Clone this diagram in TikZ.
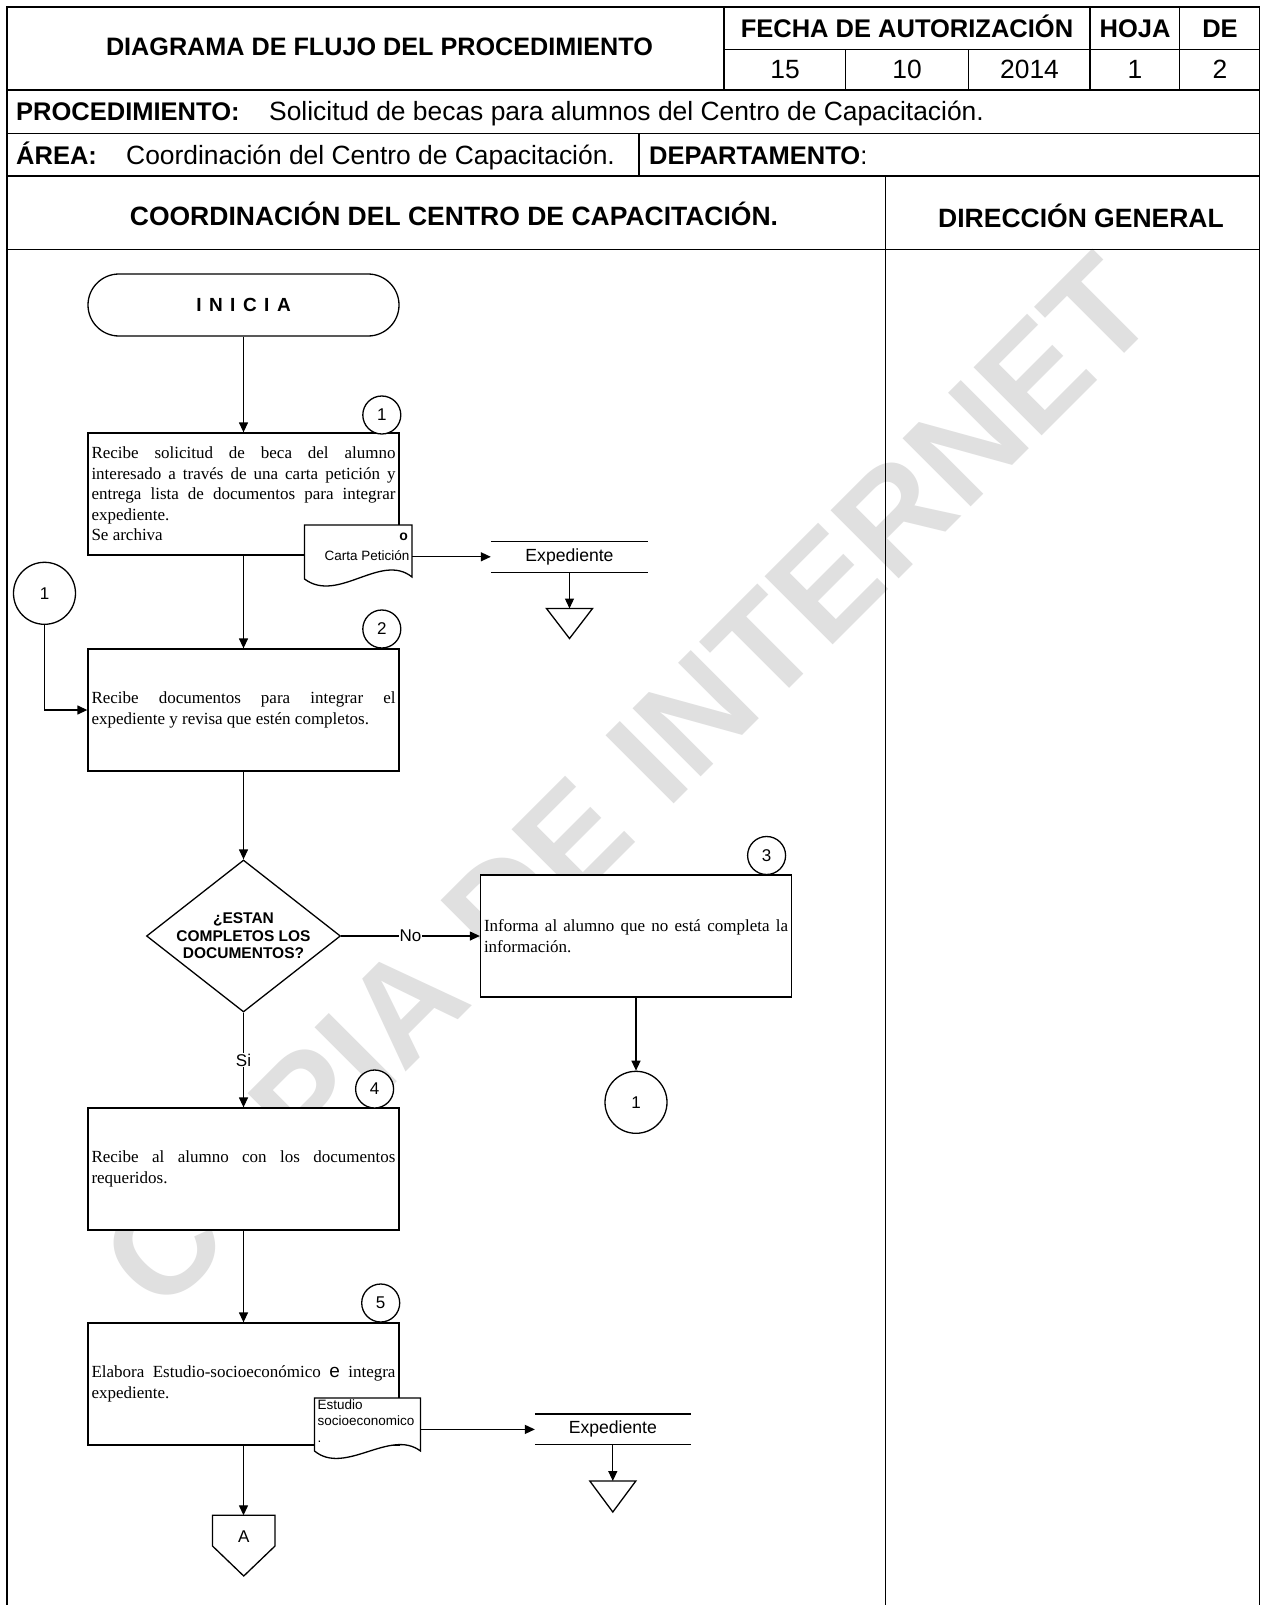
\documentclass[tikz,border=0pt]{standalone}
\usepackage{fontspec}
\setmainfont{Liberation Serif}
\newfontfamily\arialf{Liberation Sans}
\usetikzlibrary{arrows.meta,shapes.geometric}
\begin{document}
\begin{tikzpicture}[x=1pt,y=-1pt,
  tbl/.style={line width=1.7pt},
  flow/.style={line width=1.3pt, -{Triangle[length=10pt,width=9pt]}},
  plain/.style={line width=1.3pt},
  hdr/.style={font=\arialf\bfseries\fontsize{25.5}{30}\selectfont, inner sep=0pt, text height=18.3pt, text depth=0pt},
  hdrn/.style={font=\arialf\fontsize{26.4}{30}\selectfont, inner sep=0pt, text height=18.9pt, text depth=0pt},
  lanehdr/.style={font=\arialf\bfseries\fontsize{26.5}{30}\selectfont, inner sep=0pt, text height=19pt, text depth=0pt},
  proc/.style={draw, line width=1.3pt, fill=white, minimum width=311pt, minimum height=122pt, text width=304pt, align=justify, inner sep=0pt, font=\fontsize{17}{20.5}\selectfont},
  stepc/.style={circle, draw, line width=1.3pt, fill=white, minimum size=38pt, inner sep=0pt, font=\arialf\fontsize{17}{20}\selectfont},
  conn/.style={circle, draw, line width=1.3pt, fill=white, minimum size=62pt, inner sep=0pt, font=\arialf\fontsize{17}{20}\selectfont},
  lbl/.style={fill=white, inner sep=1pt, font=\arialf\fontsize{17}{20}\selectfont},
  small/.style={inner sep=0pt, font=\arialf\fontsize{13.5}{16.4}\selectfont},
  expd/.style={inner sep=0pt, minimum height=30.4pt, font=\arialf\fontsize{17.6}{20}\selectfont},
]
\useasboundingbox (0,0) rectangle (1261,1605);
\fill[white] (0,0) rectangle (1261,1605);

% watermark
\node[rotate=45, anchor=base, inner sep=0pt, text=black!12,
      font=\arialf\bfseries\fontsize{140}{140}\selectfont] (wm) at (662,816) {COPIA DE INTERNET};

% ---------- header table ----------
\draw[tbl] (7,1605) -- (7,7) -- (1259.5,7) -- (1259.5,1605);
\draw[tbl] (7,90) -- (1259.5,90);
\draw[tbl] (724,7) -- (724,90);
\draw[tbl] (724,49.5) -- (1259.5,49.5);
\draw[tbl] (1090,7) -- (1090,90);
\draw[tbl] (1179.5,7) -- (1179.5,90);
\draw[tbl] (845.5,49.5) -- (845.5,90);
\draw[tbl] (968.5,49.5) -- (968.5,90);
\draw[tbl] (7,133.5) -- (1259.5,133.5);
\draw[tbl] (7,176) -- (1259.5,176);
\draw[tbl] (639,133.5) -- (639,176);
\draw[tbl] (7,249.5) -- (1259.5,249.5);
\draw[tbl] (885.5,176) -- (885.5,1605);

\node[hdr, font=\arialf\bfseries\fontsize{25.2}{30}\selectfont] (title) at (379.5,46) {DIAGRAMA DE FLUJO DEL PROCEDIMIENTO};
\node[hdr] (fecha) at (907,28.5) {FECHA DE AUTORIZACIÓN};
\node[hdr] (hoja) at (1135,28.5) {HOJA};
\node[hdr] (de) at (1220,28.5) {DE};
\node[hdrn] (dia) at (785,69.5) {15};
\node[hdrn] (mes) at (907,69.5) {10};
\node[hdrn] (anio) at (1029.5,69.5) {2014};
\node[hdrn] (hnum) at (1135,69.5) {1};
\node[hdrn] (dnum) at (1220,69.5) {2};
\node[hdr, anchor=west] (procl) at (16,111.5) {PROCEDIMIENTO:};
\node[hdrn, anchor=west] (procv) at (269,111.5) {Solicitud de becas para alumnos del Centro de Capacitación.};
\node[hdr, anchor=west] (areal) at (16,155.5) {ÁREA:};
\node[hdrn, anchor=west] (areav) at (126,155.5) {Coordinación del Centro de Capacitación.};
\node[hdr, anchor=west] (depl) at (649,155.5) {DEPARTAMENTO{\mdseries :}};
\node[lanehdr] (lane1) at (454,216) {COORDINACIÓN DEL CENTRO DE CAPACITACIÓN.};
\node[lanehdr] (lane2) at (1081,218) {DIRECCIÓN GENERAL};

% ---------- flow ----------
\node[draw, line width=1.3pt, fill=white, rounded corners=31pt, minimum width=311pt, minimum height=62pt,
      inner sep=0pt, font=\arialf\bfseries\fontsize{19}{20}\selectfont] (ini) at (243.5,305)
      {I\hspace{7.5pt}N\hspace{7.5pt}I\hspace{7.5pt}C\hspace{7.5pt}I\hspace{7.5pt}A};

\node[proc] (b1) at (243.5,494) {Recibe solicitud de beca del alumno\linebreak interesado a través de una carta petición y\linebreak entrega lista de documentos para integrar\linebreak expediente.\newline Se archiva};
\node[stepc] (s1) at (381.8,415) {1};

% document Carta Peticion
\draw[plain, fill=white] (304.5,525) -- (412,525) -- (412,577) .. controls (381,552) and (338,604) .. (304.5,579) -- cycle;
\node[inner sep=0pt, anchor=east, font=\arialf\bfseries\fontsize{14}{14}\selectfont] (cartao) at (408,537) {o};
\node[small, anchor=east] (cartat) at (409.5,555.7) {Carta Petición};
\coordinate (cartaR) at (412,556.8);

\node[expd, minimum width=157pt] (exp1) at (569.5,556.8) {Expediente};
\draw[plain] (exp1.north west) -- (exp1.north east) (exp1.south west) -- (exp1.south east);
\draw[flow] (cartaR) -- (exp1.west);
\coordinate (tri1) at (569.5,608.5);
\draw[plain] (546.5,608.5) -- (592.5,608.5) -- (569.5,638.5) -- cycle;
\draw[flow] (exp1.south) -- (tri1);

\node[proc] (b2) at (243.5,710) {Recibe documentos para integrar el\linebreak expediente y revisa que estén completos.};
\node[stepc] (s2) at (381.8,629) {2};
\node[conn] (c1a) at (44.5,593.3) {1};

\node[diamond, draw, line width=1.3pt, fill=white, minimum width=194pt, minimum height=152pt, inner sep=0pt,
      label={[font=\arialf\bfseries\fontsize{15.5}{17.4}\selectfont, align=center, inner sep=0pt]center:{¿ESTAN\\COMPLETOS LOS\\DOCUMENTOS?}}] (d1) at (243.5,936) {};

\node[proc] (b3) at (636,936) {Informa al alumno que no está completa la\linebreak información.};
\node[stepc] (s3) at (766.6,855.5) {3};
\node[conn] (c1b) at (636,1102.3) {1};

\node[proc] (b4) at (243.5,1169) {Recibe al alumno con los documentos\linebreak requeridos.};
\node[stepc] (s4) at (374.6,1089) {4};

\node[proc] (b5) at (243.5,1384) {Elabora Estudio-socioeconómico {\arialf\fontsize{19}{20}\selectfont e} integra\linebreak expediente.};
\node[stepc] (s5) at (380.7,1303) {5};

% document Estudio
\draw[plain, fill=white] (314.5,1398) -- (420.5,1398) -- (420.5,1451) .. controls (390,1428) and (345,1476) .. (314.5,1451) -- cycle;
\node[small, anchor=north west, align=left] (estt) at (317.5,1399.5) {Estudio\\socioeconomico\\.};
\coordinate (estR) at (420.5,1429.4);

\node[expd, minimum width=155.5pt] (exp2) at (612.8,1429.4) {Expediente};
\draw[plain] (exp2.north west) -- (exp2.north east) (exp2.south west) -- (exp2.south east);
\coordinate (tri2) at (612.8,1481);
\draw[plain] (589.8,1481) -- (635.8,1481) -- (612.8,1512) -- cycle;

% off-page connector A
\draw[plain, fill=white] (212.5,1515.3) -- (275,1515.3) -- (275,1546) -- (243.75,1576) -- (212.5,1546) -- cycle;
\coordinate (offAtop) at (243.5,1515.3);
\node[inner sep=0pt, font=\arialf\fontsize{17}{20}\selectfont] (offA) at (243.75,1537) {A};

% ---------- connectors ----------
\draw[flow] (ini.south) -- (b1.north);
\draw[flow] (b1.south) -- (b2.north);
\draw[flow] (c1a.south) |- (b2.west);
\draw[flow] (b2.south) -- (d1.north);
\draw[flow] (d1.east) -- node[lbl] (no) {No} (b3.west);
\draw[flow] (b3.south) -- (c1b.north);
\draw[flow] (d1.south) -- node[lbl] (si) {Si} (b4.north);
\draw[flow] (b4.south) -- (b5.north);
\draw[flow] (estR) -- (exp2.west);
\draw[flow] (exp2.south) -- (tri2);
\draw[flow] (b5.south) -- (offAtop);
\end{tikzpicture}
\end{document}
